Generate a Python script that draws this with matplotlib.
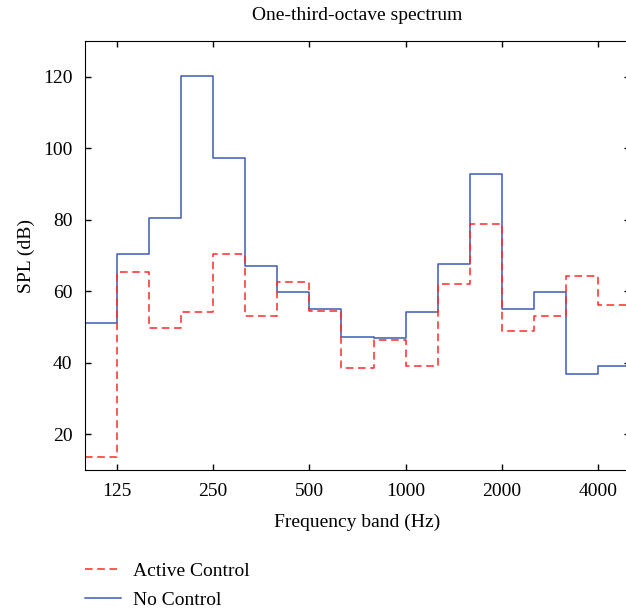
import matplotlib
matplotlib.use("Agg")
import matplotlib.pyplot as plt
import numpy as np

plt.rcParams['font.family'] = ['Liberation Serif', 'DejaVu Serif']
plt.rcParams['font.size'] = 14

# one-third-octave band centres (Hz), 100 Hz .. 5000 Hz
bands = [100, 125, 160, 200, 250, 315, 400, 500, 630, 800,
         1000, 1250, 1600, 2000, 2500, 3150, 4000, 5000]
tick_bands = [125, 250, 500, 1000, 2000, 4000]

# SPL in each band (dB)
no_control = [51.0, 70.4, 80.4, 120.2, 97.2, 67.0, 59.9, 55.1, 47.2,
              46.8, 54.3, 67.6, 92.9, 54.9, 59.7, 36.8, 39.1]
active_control = [13.5, 65.5, 49.7, 54.2, 70.4, 53.2, 62.5, 54.6, 38.5,
                  46.3, 39.1, 61.9, 78.9, 48.9, 53.0, 64.2, 56.1]

x = np.arange(len(bands))

fig = plt.figure(figsize=(6.26, 6.12), dpi=100)
ax = fig.add_axes([85/626, 1 - 470/612, 545/626, 429/612])

ax.step(x, no_control + [no_control[-1]], where='post',
        color='#3f5bb5', lw=1.1, label='No Control')
ax.step(x, active_control + [active_control[-1]], where='post',
        color='#ff2a2a', lw=1.1, ls=(0, (5, 3)), label='Active Control')

ax.set_xlim(0, len(bands) - 1)
ax.set_ylim(10, 130)
ax.set_xticks([bands.index(b) for b in tick_bands])
ax.set_xticklabels([str(b) for b in tick_bands])
ax.set_yticks([20, 40, 60, 80, 100, 120])
ax.tick_params(direction='in', length=4, width=1, top=True, right=True,
               labelsize=14, pad=9)

ax.set_title('One-third-octave spectrum', fontsize=14, pad=15)
ax.set_xlabel('Frequency band (Hz)', fontsize=14, labelpad=10)
ax.set_ylabel('SPL (dB)', fontsize=14, labelpad=6)

handles, labels = ax.get_legend_handles_labels()
fig.legend(handles[::-1], labels[::-1], loc='upper left',
           bbox_to_anchor=(85/626, 1 - 562/612), frameon=False,
           borderpad=0, borderaxespad=0, handlelength=1.85,
           handletextpad=0.6, labelspacing=0.6, fontsize=14)

fig.savefig('out.png', dpi=100)
